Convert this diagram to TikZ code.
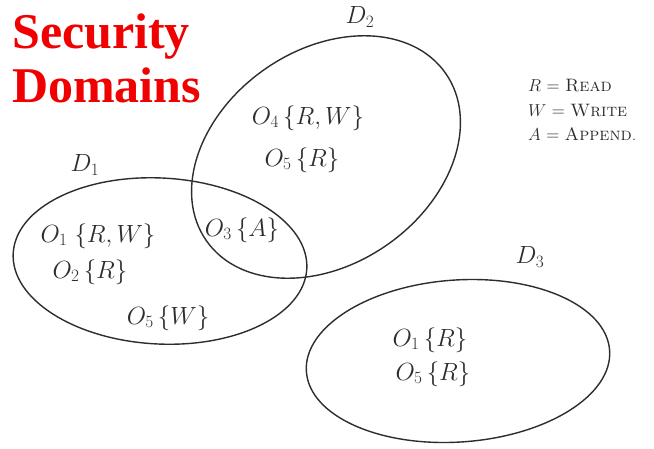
\documentclass[tikz,border=0pt]{standalone}
\usepackage{fontspec}
\usepackage{tikz}
\usetikzlibrary{positioning}
\newfontfamily\titlefont{Liberation Serif}
\definecolor{titre}{RGB}{240,0,0}
\definecolor{crayon}{RGB}{45,45,45}

\begin{document}
\begin{tikzpicture}[x=1pt, y=-1pt,
    secdomain/.style={crayon, line width=1.4pt},
    hand/.style={crayon, font=\fontsize{26}{30}\selectfont},
    legend/.style={crayon, anchor=west, inner sep=1pt, font=\fontsize{18}{21}\selectfont}]
    \useasboundingbox[fill=white] (0,0) rectangle (654,448);
    \node[titre, anchor=north west, align=left, inner sep=0pt,
          font=\titlefont\bfseries\fontsize{50}{54}\selectfont] (title) at (12,14) {Security\\Domains};
    \draw[secdomain] (326,157) ellipse [x radius=146pt, y radius=107pt, rotate=35];
    \draw[secdomain] (160,261) ellipse [x radius=147pt, y radius=83pt, rotate=-3];
    \draw[secdomain] (458,361) ellipse [x radius=152pt, y radius=81pt, rotate=4];
    \node[hand] (d2) at (360,17) {$D_2$};
    \node[hand] (d1) at (85,165) {$D_1$};
    \node[hand] (d3) at (530,257) {$D_3$};
    \node[hand] (o4) at (308,118) {$O_4\,\{R,W\}$};
    \node[hand] (o5b) at (302,160) {$O_5\,\{R\}$};
    \node[hand] (o3) at (242,230) {$O_3\,\{A\}$};
    \node[hand] (o1a) at (98,236) {$O_1\;\{R,W\}$};
    \node[hand] (o2) at (90,272) {$O_2\,\{R\}$};
    \node[hand] (o5a) at (168,318) {$O_5\,\{W\}$};
    \node[hand] (o1c) at (430,340) {$O_1\,\{R\}$};
    \node[hand] (o5c) at (433,374) {$O_5\,\{R\}$};
    \node[legend] (read) at (527,86) {$R$ = \textsc{Read}};
    \node[legend, below=9pt of read.south west, anchor=north west] (write) {$W$ = \textsc{Write}};
    \node[legend, below=9pt of write.south west, anchor=north west] (append) {$A$ = \textsc{Append}.};
\end{tikzpicture}
\end{document}
